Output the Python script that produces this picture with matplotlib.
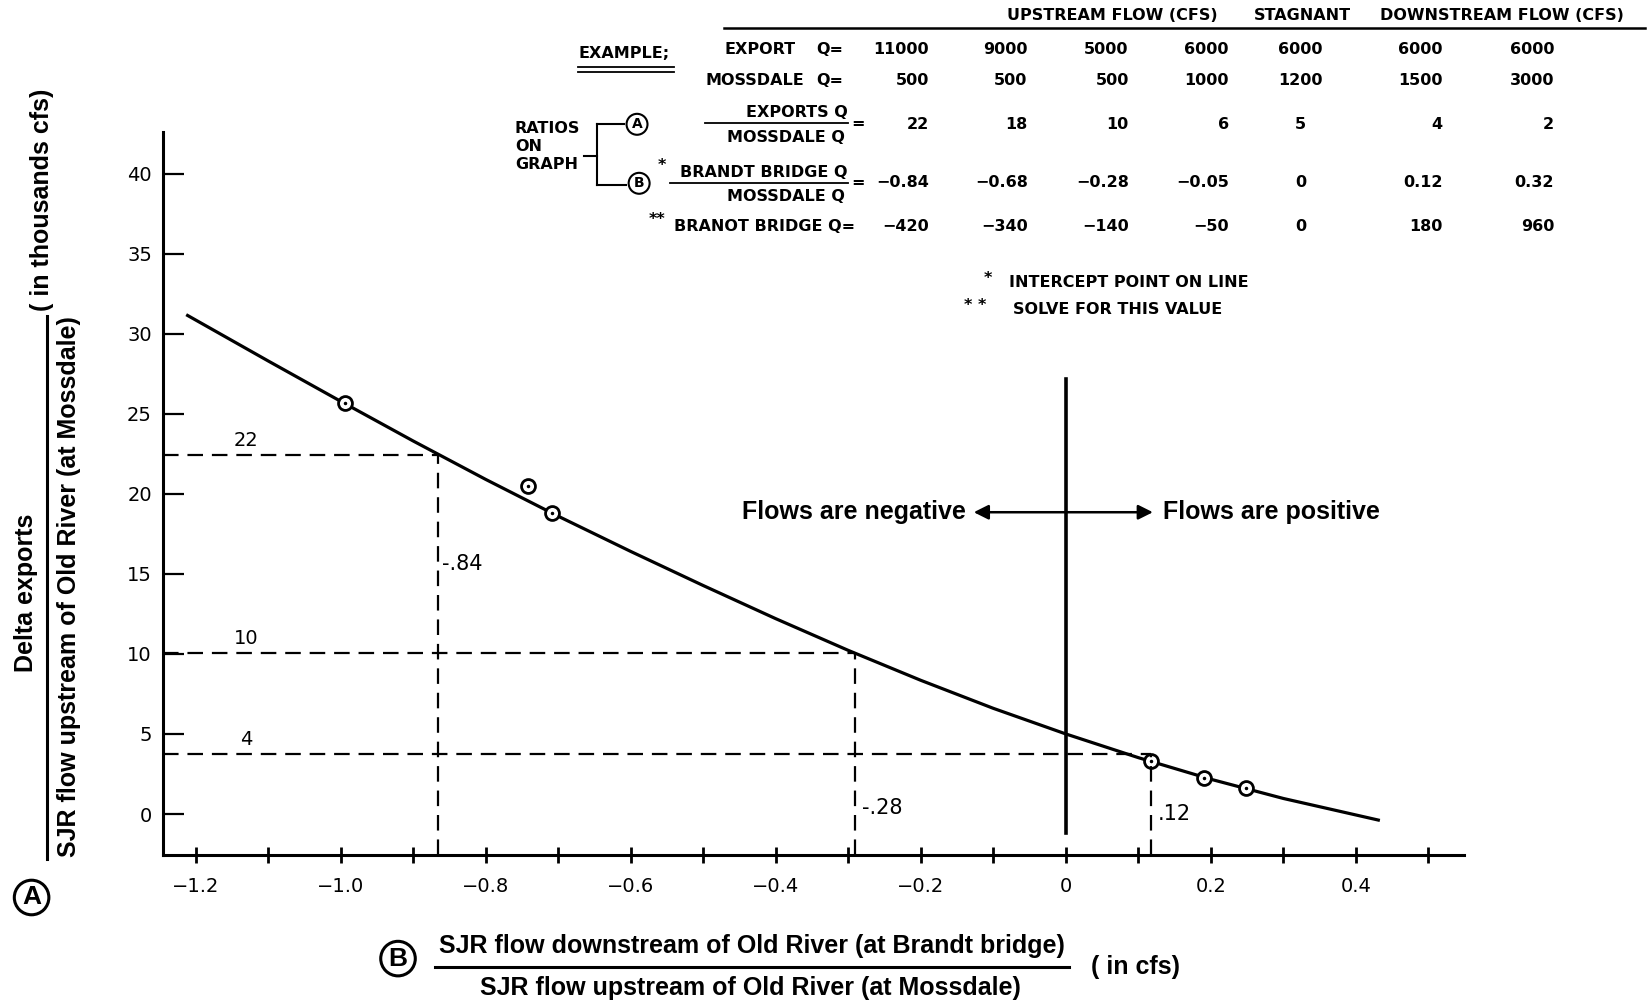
import matplotlib
matplotlib.use("Agg")
import matplotlib.pyplot as plt
from matplotlib.lines import Line2D

# curve: x = Brandt/Mossdale ratio, y = exports/Mossdale ratio
curve_x = [-1.213, -1.1, -1.0, -0.9, -0.8, -0.7, -0.6, -0.5, -0.4,
           -0.3, -0.2, -0.1, 0.0, 0.1, 0.2, 0.3, 0.433]
curve_y = [31.19, 28.30, 25.78, 23.30, 20.90, 18.60, 16.40, 14.27, 12.20,
           10.22, 8.35, 6.60, 5.00, 3.52, 2.17, 0.97, -0.40]

# plotted observation circles
obs_x = [-0.994, -0.742, -0.709, 0.117, 0.191, 0.248]
obs_y = [25.65, 20.46, 18.8, 3.30, 2.28, 1.60]

# dashed guide lines (worked examples)
guide_x = [-0.866, -0.291, 0.118]
guide_y = [22.4, 10.08, 3.73]
guide_y_labels = ['22', '10', '4']
guide_x_labels = ['-.84', '-.28', '.12']

x_ticks = [-1.2, -1.0, -0.8, -0.6, -0.4, -0.2, 0.0, 0.2, 0.4]
x_tick_labels = ['\u22121.2', '\u22121.0', '\u22120.8', '\u22120.6', '\u22120.4',
                 '\u22120.2', '0', '0.2', '0.4']
x_minor = [-1.1, -0.9, -0.7, -0.5, -0.3, -0.1, 0.1, 0.3, 0.5]
y_ticks = [0, 5, 10, 15, 20, 25, 30, 35, 40]

# example table
export_q = [11000, 9000, 5000, 6000, 6000, 6000, 6000]
mossdale_q = [500, 500, 500, 1000, 1200, 1500, 3000]
ratio_a = [22, 18, 10, 6, 5, 4, 2]
ratio_b = [-0.84, -0.68, -0.28, -0.05, 0, 0.12, 0.32]
brandt_q = [-420, -340, -140, -50, 0, 180, 960]

narrow = ['Liberation Sans', 'DejaVu Sans']
W, H = 1568.0, 955.0


def pt(x, y):
    # pixel position on the reference grid -> figure fraction
    return x / W, 1 - y / H


def fmt(v, dec=0):
    if v == 0:
        return '0'
    s = f'{v:.{dec}f}' if dec else f'{v:d}'
    return s.replace('-', '\u2212')


fig = plt.figure(figsize=(16.51, 10.06), dpi=100)
ax = fig.add_axes([163 / 1651, 1 - 855 / 1006, (1464 - 163) / 1651, (855 - 132) / 1006])
ax.set_xlim(-1.245, 0.549)
ax.set_ylim(-2.56, 42.6)

for s in ['top', 'right']:
    ax.spines[s].set_visible(False)
for s in ['left', 'bottom']:
    ax.spines[s].set_linewidth(2.2)

ax.set_xticks(x_ticks)
ax.set_xticklabels(x_tick_labels, fontsize=14)
ax.set_xticks(x_minor, minor=True)
ax.tick_params(axis='x', which='both', direction='inout', length=12, width=2, pad=10)
ax.set_yticks(y_ticks)
ax.set_yticklabels([str(v) for v in y_ticks], fontsize=14)
ax.tick_params(axis='y', direction='in', length=15, width=1.6, pad=8)

# main curve and circles
ax.plot(curve_x, curve_y, color='black', lw=2.3, solid_capstyle='butt',
        solid_joinstyle='round')
ax.plot(obs_x, obs_y, 'o', ms=10, mfc='white', mec='black', mew=2)
ax.plot(obs_x, obs_y, '.', ms=3, color='black')

# dashed guides
x0, y0 = ax.get_xlim()[0], ax.get_ylim()[0]
for gx, gy, ly in zip(guide_x, guide_y, guide_y_labels):
    ax.plot([x0, gx], [gy, gy], color='black', lw=1.6, dashes=(7, 4))
    ax.plot([gx, gx], [y0, gy], color='black', lw=1.6, dashes=(7, 4))
    ax.text(-1.13, gy + 0.9, ly, fontsize=14, ha='center', va='center')
ax.text(guide_x[0] + 0.006, 15.6, guide_x_labels[0], fontsize=15, ha='left', va='center')
ax.text(guide_x[1] + 0.01, 0.4, guide_x_labels[1], fontsize=15, ha='left', va='center')
ax.text(guide_x[2] + 0.009, 0.0, guide_x_labels[2], fontsize=15, ha='left', va='center')

# zero flow line and arrows
ax.plot([0, 0], [-1.2, 27.2], color='black', lw=2.6)
ax.annotate('', xy=(-0.127, 18.85), xytext=(0.12, 18.85),
            arrowprops=dict(arrowstyle='<|-|>', lw=1.8, color='black',
                            mutation_scale=22, shrinkA=0, shrinkB=0))
lab = dict(family=narrow, fontweight='bold')
ax.text(-0.138, 18.85, 'Flows are negative', fontsize=18, ha='right', va='center', **lab)
ax.text(0.134, 18.85, 'Flows are positive', fontsize=18, ha='left', va='center', **lab)

# y axis label (fraction)
fig.text(*pt(25, 563), 'Delta exports', rotation=90, fontsize=18,
         ha='center', va='center', **lab)
fig.add_artist(Line2D([45 / W, 45 / W], [1 - 300 / H, 1 - 815 / H], color='black', lw=2.2))
fig.text(*pt(66, 557), 'SJR flow upstream of Old River (at Mossdale)', rotation=90,
         fontsize=18, ha='center', va='center', **lab)
fig.text(*pt(40, 190), '( in thousands cfs)', rotation=90, fontsize=18,
         ha='center', va='center', **lab)
fig.text(*pt(30, 852), 'A', fontsize=19, ha='center', va='center', **lab,
         bbox=dict(boxstyle='circle,pad=0.2', fc='white', ec='black', lw=2.2))

# x axis label (fraction)
fig.text(*pt(378, 910), 'B', fontsize=19, ha='center', va='center', **lab,
         bbox=dict(boxstyle='circle,pad=0.2', fc='white', ec='black', lw=2.2))
fig.text(*pt(714, 898), 'SJR flow downstream of Old River (at Brandt bridge)', fontsize=18,
         ha='center', va='center', **lab)
fig.add_artist(Line2D([413 / W, 1015 / W], [1 - 918 / H, 1 - 918 / H], color='black', lw=2.2))
fig.text(*pt(713, 938), 'SJR flow upstream of Old River (at Mossdale)', fontsize=18,
         ha='center', va='center', **lab)
fig.text(*pt(1078, 918), '( in cfs)', fontsize=18, ha='center', va='center', **lab)

# example table
tb = dict(fontsize=11.5, fontweight='bold', va='center')
fig.text(*pt(1056, 15), 'UPSTREAM FLOW (CFS)', ha='center', **tb)
fig.text(*pt(1237, 15), 'STAGNANT', ha='center', **tb)
fig.text(*pt(1426, 15), 'DOWNSTREAM FLOW (CFS)', ha='center', **tb)
fig.add_artist(Line2D([688 / W, 1562 / W], [1 - 27 / H, 1 - 27 / H], color='black', lw=1.8))

fig.text(*pt(549, 51), 'EXAMPLE;', ha='left', **tb)
for yy in (64, 68):
    fig.add_artist(Line2D([549 / W, 640 / W], [1 - yy / H, 1 - yy / H], color='black', lw=1.3))
fig.text(*pt(688, 47), 'EXPORT', ha='left', **tb)
fig.text(*pt(775, 47), 'Q=', ha='left', **tb)
fig.text(*pt(670, 76), 'MOSSDALE', ha='left', **tb)
fig.text(*pt(775, 76), 'Q=', ha='left', **tb)

fig.text(*pt(489, 122), 'RATIOS', ha='left', **tb)
fig.text(*pt(489, 139), 'ON', ha='left', **tb)
fig.text(*pt(489, 156), 'GRAPH', ha='left', **tb)
for (xa, ya), (xb, yb) in [((555, 148), (567, 148)), ((567, 118), (567, 176)),
                           ((567, 118), (593, 118)), ((567, 176), (595, 176))]:
    fig.add_artist(Line2D([xa / W, xb / W], [1 - ya / H, 1 - yb / H], color='black', lw=1.5))
fig.text(*pt(605, 118), 'A', ha='center', fontsize=10, fontweight='bold', va='center',
         bbox=dict(boxstyle='circle,pad=0.25', fc='white', ec='black', lw=1.5))
fig.text(*pt(607, 174), 'B', ha='center', fontsize=10, fontweight='bold', va='center',
         bbox=dict(boxstyle='circle,pad=0.25', fc='white', ec='black', lw=1.5))

fig.text(*pt(805, 107), 'EXPORTS Q', ha='right', **tb)
fig.add_artist(Line2D([670 / W, 805 / W], [1 - 117 / H, 1 - 117 / H], color='black', lw=1.3))
fig.text(*pt(808, 117), '=', ha='left', **tb)
fig.text(*pt(802, 131), 'MOSSDALE Q', ha='right', **tb)
fig.text(*pt(629, 157), '*', ha='center', **tb)
fig.text(*pt(805, 164), 'BRANDT BRIDGE Q', ha='right', **tb)
fig.add_artist(Line2D([636 / W, 805 / W], [1 - 174 / H, 1 - 174 / H], color='black', lw=1.3))
fig.text(*pt(808, 173), '=', ha='left', **tb)
fig.text(*pt(802, 187), 'MOSSDALE Q', ha='right', **tb)
fig.text(*pt(624, 208), '**', ha='center', **tb)
fig.text(*pt(812, 215), 'BRANOT BRIDGE Q=', ha='right', **tb)

col_edge = [882, 976, 1072, 1167, 1235, 1370, 1476]
rows = [(47, export_q, 0), (76, mossdale_q, 0), (118, ratio_a, 0),
        (173, ratio_b, 2), (215, brandt_q, 0)]
for yy, vals, dec in rows:
    for i, v in enumerate(vals):
        ha = 'center' if i == 4 else 'right'
        fig.text(*pt(col_edge[i], yy), fmt(v, dec), ha=ha, **tb)

fig.text(*pt(938, 264), '*', ha='center', **tb)
fig.text(*pt(958, 268), 'INTERCEPT POINT ON LINE', ha='left', **tb)
fig.text(*pt(926, 290), '* *', ha='center', **tb)
fig.text(*pt(962, 294), 'SOLVE FOR THIS VALUE', ha='left', **tb)

fig.savefig('out.png', dpi=100, facecolor='white')
